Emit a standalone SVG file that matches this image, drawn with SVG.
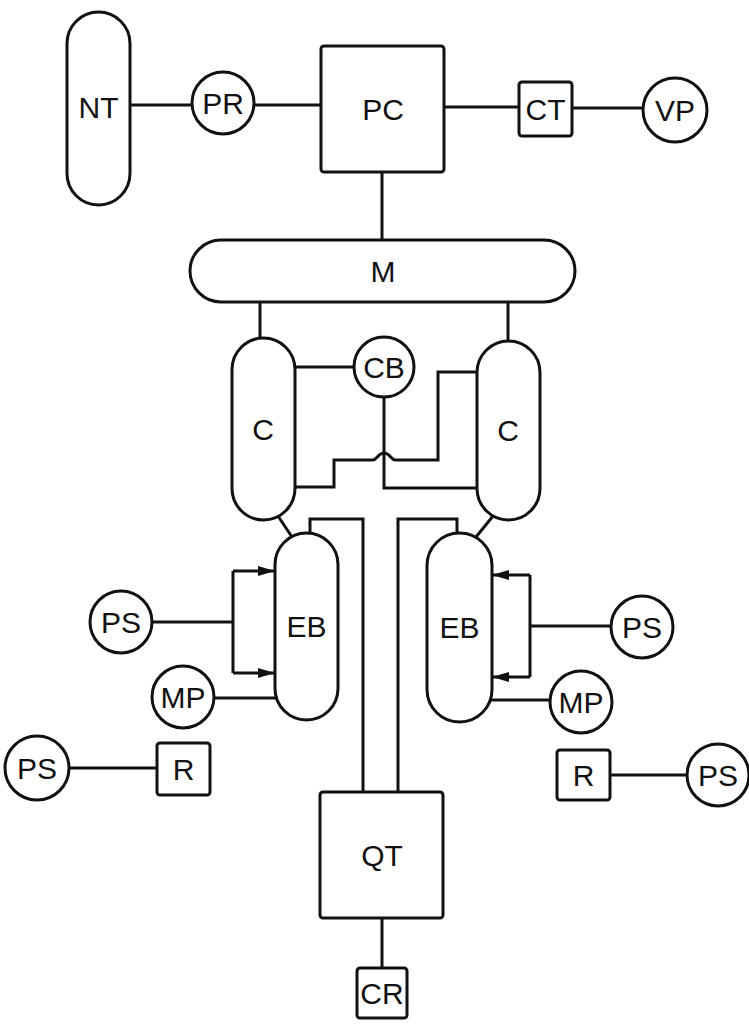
<svg xmlns="http://www.w3.org/2000/svg" width="749" height="1024" viewBox="0 0 749 1024">
<style>
.s{fill:#fff;stroke:#111;stroke-width:3}
.w{fill:none;stroke:#111;stroke-width:3;stroke-linejoin:miter}
.t{font-family:"Liberation Sans",Arial,Helvetica,sans-serif;font-size:30px;fill:#111;text-anchor:middle}
</style>
<defs>
<marker id="ah" markerUnits="userSpaceOnUse" markerWidth="18" markerHeight="12" refX="17" refY="6" orient="auto">
<path d="M0,1 L17,6 L0,11 Z" fill="#111"/>
</marker>
</defs>
<g id="connectors">
<path class="w" d="M130,105 H192"/>
<path class="w" d="M255,105 H321"/>
<path class="w" d="M444,107 H519"/>
<path class="w" d="M572,108 H643"/>
<path class="w" d="M382,172 V240"/>
<path class="w" d="M260,302 V338"/>
<path class="w" d="M508,302 V341"/>
<path class="w" d="M295,367 H354"/>
<path class="w" d="M384,397 V488 H477"/>
<path class="w" d="M477,372 H438 V460 H395 C391,460 390,453 384,453 C378,453 377,460 373,460 H334 V487 H295"/>
<path class="w" d="M278,516 L292,537"/>
<path class="w" d="M493,516 L476,537"/>
<path class="w" d="M310,534 V519 H363 V792"/>
<path class="w" d="M457,534 V519 H398 V792"/>
<path class="w" d="M152,622 H233"/>
<path class="w" d="M233,571 V673"/>
<path class="w" d="M233,571 H275" marker-end="url(#ah)"/>
<path class="w" d="M233,673 H275" marker-end="url(#ah)"/>
<path class="w" d="M214,698 H277"/>
<path class="w" d="M610,626 H530"/>
<path class="w" d="M530,575 V677"/>
<path class="w" d="M530,575 H492" marker-end="url(#ah)"/>
<path class="w" d="M530,677 H492" marker-end="url(#ah)"/>
<path class="w" d="M490,700 H550"/>
<path class="w" d="M69,768 H157"/>
<path class="w" d="M610,775 H687"/>
<path class="w" d="M382,918 V968"/>
</g>
<g id="NT"><rect class="s" x="67" y="12" width="63" height="193" rx="31.5"/><text class="t" x="98.5" y="118">NT</text></g>
<g id="PR"><circle class="s" cx="223" cy="103" r="31"/><text class="t" x="223" y="114">PR</text></g>
<g id="PC"><rect class="s" x="321" y="46" width="123" height="126" rx="3"/><text class="t" x="383" y="120">PC</text></g>
<g id="CT"><rect class="s" x="519" y="82" width="53" height="54" rx="3"/><text class="t" x="545.5" y="120">CT</text></g>
<g id="VP"><circle class="s" cx="675" cy="110" r="32"/><text class="t" x="675" y="121">VP</text></g>
<g id="M"><rect class="s" x="190" y="240" width="385" height="62" rx="31"/><text class="t" x="383" y="282">M</text></g>
<g id="C1"><rect class="s" x="232" y="338" width="63" height="182" rx="31.5"/><text class="t" x="263" y="440">C</text></g>
<g id="C2"><rect class="s" x="477" y="341" width="63" height="179" rx="31.5"/><text class="t" x="508" y="441">C</text></g>
<g id="CB"><circle class="s" cx="384" cy="367" r="30"/><text class="t" x="384" y="378">CB</text></g>
<g id="EB1"><rect class="s" x="275" y="533" width="63" height="187" rx="31.5"/><text class="t" x="306.5" y="637">EB</text></g>
<g id="EB2"><rect class="s" x="427" y="533" width="65" height="189" rx="32.5"/><text class="t" x="459.5" y="638">EB</text></g>
<g id="PS1"><circle class="s" cx="121" cy="622" r="31"/><text class="t" x="121" y="633">PS</text></g>
<g id="MP1"><circle class="s" cx="183" cy="697" r="31"/><text class="t" x="183" y="708">MP</text></g>
<g id="PS2"><circle class="s" cx="642" cy="627" r="31"/><text class="t" x="642" y="638">PS</text></g>
<g id="MP2"><circle class="s" cx="581" cy="702" r="31"/><text class="t" x="581" y="713">MP</text></g>
<g id="PS3"><circle class="s" cx="37" cy="768" r="32"/><text class="t" x="37" y="779">PS</text></g>
<g id="R1"><rect class="s" x="157" y="743" width="53" height="52" rx="3"/><text class="t" x="183.5" y="780">R</text></g>
<g id="R2"><rect class="s" x="557" y="750" width="53" height="50" rx="3"/><text class="t" x="583.5" y="786">R</text></g>
<g id="PS4"><circle class="s" cx="718" cy="775" r="31"/><text class="t" x="718" y="786">PS</text></g>
<g id="QT"><rect class="s" x="320" y="792" width="123" height="126" rx="3"/><text class="t" x="382" y="866">QT</text></g>
<g id="CR"><rect class="s" x="357" y="968" width="50" height="50" rx="3"/><text class="t" x="382" y="1004">CR</text></g>
</svg>
